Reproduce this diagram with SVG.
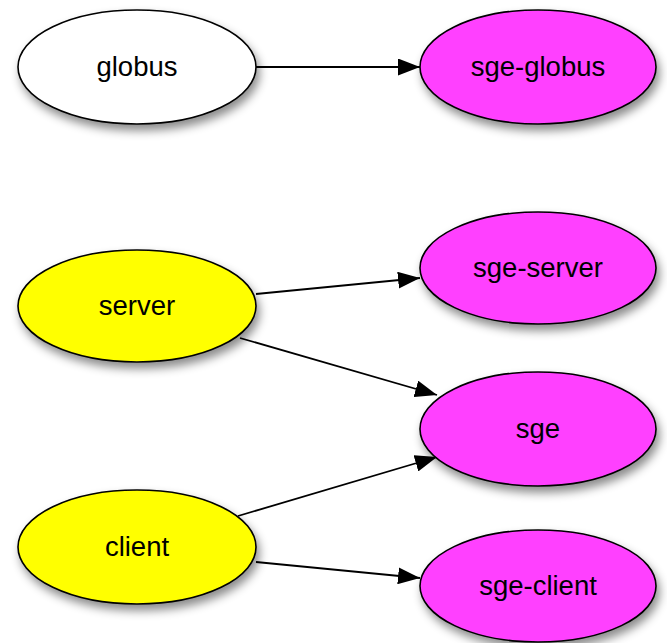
<svg xmlns="http://www.w3.org/2000/svg" width="667" height="643" viewBox="0 0 667 643">
<style>
.n{stroke:#000;stroke-width:1.6;filter:url(#sh)}
.w{fill:#fff}.y{fill:#ffff00}.m{fill:#ff40ff}
.t{font-family:"Liberation Sans",Arial,sans-serif;font-size:27.5px;fill:#000;text-anchor:middle}
.e{stroke:#000;stroke-width:1.8;fill:none;marker-end:url(#ah)}
</style>
<defs>
<filter id="sh" x="-20%" y="-20%" width="150%" height="160%">
<feDropShadow dx="3" dy="6" stdDeviation="5" flood-color="#000" flood-opacity="0.45"/>
</filter>
<marker id="ah" viewBox="0 0 22 17" refX="22" refY="8.5" markerWidth="22" markerHeight="17" markerUnits="userSpaceOnUse" orient="auto">
<path d="M0,0 L22,8.5 L0,17 Z" fill="#000"/>
</marker>
</defs>
<g id="connectors">
<line class="e" x1="256" y1="67" x2="420" y2="67"/>
<line class="e" x1="256" y1="294" x2="420" y2="278"/>
<line class="e" x1="240" y1="338" x2="437" y2="395"/>
<line class="e" x1="238" y1="516" x2="437" y2="457"/>
<line class="e" x1="256" y1="562" x2="420" y2="578"/>
</g>
<g id="globus"><ellipse class="n w" cx="137" cy="67" rx="119" ry="57"/><text class="t" x="137" y="76">globus</text></g>
<g id="sge-globus"><ellipse class="n m" cx="538" cy="67" rx="118" ry="57"/><text class="t" x="538" y="76">sge-globus</text></g>
<g id="server"><ellipse class="n y" cx="137" cy="306" rx="119" ry="56"/><text class="t" x="137" y="315">server</text></g>
<g id="sge-server"><ellipse class="n m" cx="538" cy="268" rx="118" ry="56"/><text class="t" x="538" y="277">sge-server</text></g>
<g id="sge"><ellipse class="n m" cx="538" cy="429" rx="118" ry="57"/><text class="t" x="538" y="438">sge</text></g>
<g id="client"><ellipse class="n y" cx="137" cy="547" rx="119" ry="57"/><text class="t" x="137" y="556">client</text></g>
<g id="sge-client"><ellipse class="n m" cx="538" cy="586" rx="118" ry="56"/><text class="t" x="538" y="595">sge-client</text></g>
</svg>
